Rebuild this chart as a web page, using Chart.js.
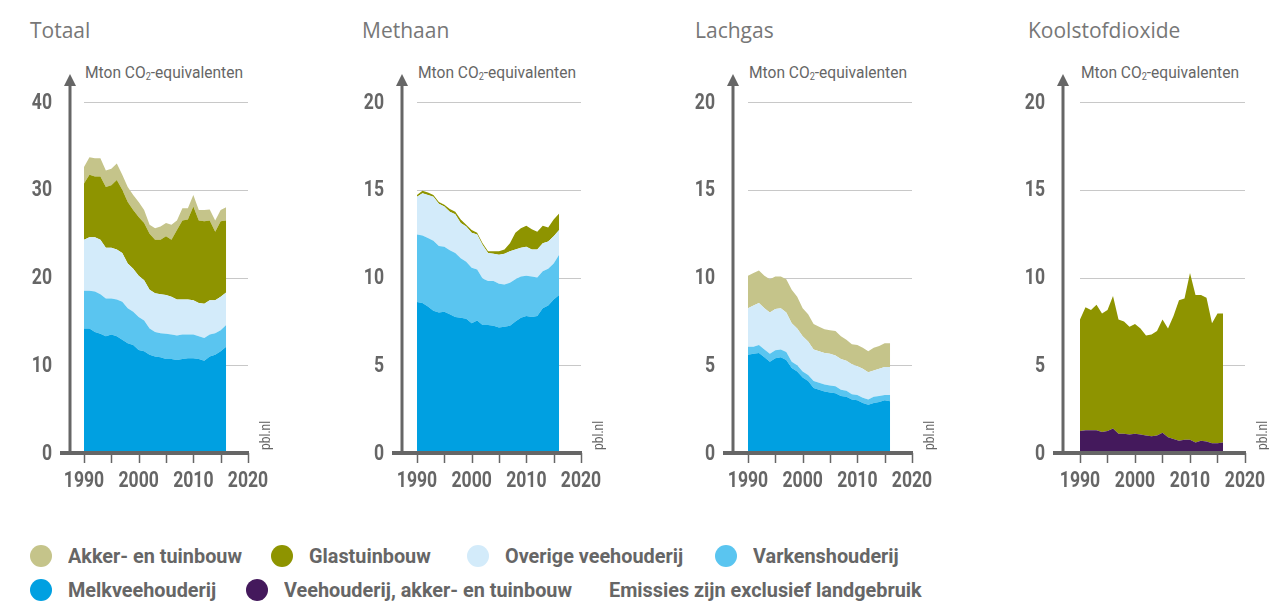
<!DOCTYPE html>
<html>
<head>
<meta charset="utf-8">
<script src="https://cdn.jsdelivr.net/npm/chart.js@4"></script>
<style>
  body { margin: 0; width: 1269px; height: 601px; overflow: hidden; background: #fff; position: relative; }
  canvas { position: absolute; top: 0; }
  .title { position: absolute; top: 16px; font: 400 21px "Open Sans", sans-serif; color: #777; }
  .unit { position: absolute; top: 62px; font: 400 17px Roboto, sans-serif; color: #666; white-space: nowrap; transform-origin: 0 0; }
  .unit sub { font-size: 10px; vertical-align: -2px; line-height: 0; }
  .leg { position: absolute; font: 700 20px Roboto, sans-serif; color: #666; white-space: nowrap; line-height: 22px; transform-origin: 0 50%; }
  .dot { position: absolute; width: 22px; height: 22px; border-radius: 50%; }
</style>
</head>
<body>
<script>
var years = [];
for (var y = 1990; y <= 2016; y++) years.push(y);

var xTicks = [1990, 2000, 2010, 2020];

var colors = {
  akker: '#c5c48a',
  glas: '#8e9400',
  overige: '#d3ebfa',
  varkens: '#5ac5f0',
  melk: '#00a0e1',
  veeh: '#44195c'
};

// Totaal
var totMelk    = [14.2,14.2,13.8,13.6,13.3,13.5,13.3,12.9,12.5,12.3,11.75,11.6,11.2,11.0,10.9,10.7,10.7,10.6,10.7,10.8,10.8,10.7,10.5,11.0,11.2,11.6,12.1];
var totVarkens = [4.3,4.3,4.6,4.5,4.3,4.1,4.2,4.35,4.0,3.8,3.75,3.5,3.0,2.8,2.75,2.9,2.8,2.8,2.8,2.7,2.7,2.6,2.6,2.5,2.45,2.4,2.5];
var totOverige = [5.8,6.1,6.2,6.2,5.8,5.8,5.7,5.55,5.1,4.9,4.7,4.6,4.4,4.4,4.45,4.4,4.3,4.1,4.0,4.0,3.9,3.8,3.9,3.9,3.75,3.8,3.7];
var totGlas    = [6.4,7.1,6.9,7.2,6.9,7.1,7.9,7.2,7.0,6.7,6.7,6.5,6.4,6.1,6.2,6.7,6.5,7.9,9.0,9.1,10.7,9.4,9.4,9.1,7.8,8.6,8.2];
var totAkker   = [1.9,2.0,2.1,2.1,1.9,1.9,1.9,1.7,1.7,1.7,1.7,1.5,1.0,1.3,1.5,1.5,1.7,1.1,1.4,1.3,1.3,1.2,1.3,1.25,1.3,1.3,1.5];

// Methaan
var ch4Melk    = [8.6,8.55,8.35,8.1,8.0,8.05,7.9,7.75,7.7,7.65,7.4,7.55,7.3,7.3,7.25,7.15,7.2,7.25,7.5,7.7,7.8,7.75,7.8,8.25,8.4,8.75,9.0];
var ch4Varkens = [3.85,3.85,3.9,4.0,3.8,3.7,3.65,3.65,3.4,3.25,3.15,2.9,2.65,2.5,2.55,2.5,2.4,2.45,2.4,2.35,2.3,2.3,2.2,2.1,2.1,2.05,2.3];
var ch4Overige = [2.15,2.4,2.45,2.5,2.4,2.3,2.2,2.2,2.0,2.0,2.0,2.0,1.9,1.6,1.55,1.65,1.75,1.8,1.7,1.65,1.65,1.55,1.6,1.6,1.55,1.55,1.4];
var ch4Glas    = [0.1,0.15,0.15,0.1,0.1,0.1,0.15,0.15,0.2,0.1,0.15,0.1,0.1,0.1,0.15,0.2,0.25,0.45,0.95,1.1,1.2,1.15,1.0,1.0,0.8,0.95,0.95];

// Lachgas
var n2oMelk    = [5.6,5.65,5.7,5.45,5.2,5.4,5.45,5.3,4.85,4.65,4.3,4.1,3.7,3.6,3.5,3.45,3.4,3.25,3.2,3.05,3.0,2.85,2.75,2.85,2.9,3.0,2.95];
var n2oVarkens = [0.45,0.4,0.45,0.45,0.45,0.45,0.45,0.45,0.35,0.35,0.35,0.35,0.4,0.4,0.4,0.4,0.4,0.35,0.35,0.3,0.3,0.3,0.3,0.35,0.35,0.3,0.35];
var n2oOverige = [2.2,2.35,2.4,2.35,2.35,2.35,2.35,2.25,2.2,2.1,2.0,1.9,1.8,1.8,1.8,1.8,1.75,1.75,1.7,1.7,1.65,1.65,1.55,1.5,1.55,1.6,1.6];
var n2oAkker   = [1.85,1.85,1.85,1.85,1.9,1.85,1.8,1.9,1.9,1.8,1.6,1.55,1.45,1.4,1.35,1.35,1.4,1.3,1.2,1.15,1.2,1.2,1.2,1.3,1.3,1.35,1.35];

// Koolstofdioxide
var co2Veeh    = [1.25,1.3,1.3,1.3,1.2,1.25,1.4,1.1,1.1,1.05,1.1,1.05,1.0,0.95,1.0,1.15,0.9,0.8,0.7,0.75,0.75,0.6,0.7,0.65,0.55,0.55,0.6];
var co2Glas    = [6.35,7.0,6.85,7.15,6.75,6.9,7.55,6.5,6.4,6.15,6.25,6.05,5.7,5.8,5.95,6.45,6.2,7.0,8.0,8.05,9.5,8.4,8.3,8.2,6.85,7.4,7.35];

var legendItems = [
  { label: 'Akker- en tuinbouw', color: colors.akker, x: 30, y: 545 },
  { label: 'Glastuinbouw', color: colors.glas, x: 271, y: 545 },
  { label: 'Overige veehouderij', color: colors.overige, x: 467, y: 545 },
  { label: 'Varkenshouderij', color: colors.varkens, x: 715, y: 545 },
  { label: 'Melkveehouderij', color: colors.melk, x: 30, y: 579 },
  { label: 'Veehouderij, akker- en tuinbouw', color: colors.veeh, x: 246, y: 579 },
  { label: 'Emissies zijn exclusief landgebruik', color: null, x: 609, y: 579 }
];

var TICK_FONT = 'bold 22px Roboto, sans-serif';
var SQUEEZE = 0.8;

var panels = [
  { title: 'Totaal', titleX: 30, left: 0, width: 290, span: 178, gap: 14, max: 40, step: 10,
    series: [[totMelk, colors.melk], [totVarkens, colors.varkens], [totOverige, colors.overige], [totGlas, colors.glas], [totAkker, colors.akker]] },
  { title: 'Methaan', titleX: 362, left: 332, width: 290, span: 179, gap: 15, max: 20, step: 5,
    series: [[ch4Melk, colors.melk], [ch4Varkens, colors.varkens], [ch4Overige, colors.overige], [ch4Glas, colors.glas]] },
  { title: 'Lachgas', titleX: 695, left: 663, width: 290, span: 179, gap: 15, max: 20, step: 5,
    series: [[n2oMelk, colors.melk], [n2oVarkens, colors.varkens], [n2oOverige, colors.overige], [n2oAkker, colors.akker]] },
  { title: 'Koolstofdioxide', titleX: 1028, left: 993, width: 276, span: 182, gap: 17, max: 20, step: 5,
    series: [[co2Veeh, colors.veeh], [co2Glas, colors.glas]] }
];

var AXIS_X = 70, TOP = 102, BASE = 453, H = 500;

function squeezedText(ctx, text, x, y, align) {
  ctx.save();
  ctx.translate(x, y);
  ctx.scale(SQUEEZE, 1);
  ctx.textAlign = align;
  ctx.fillText(text, 0, 0);
  ctx.restore();
}

var decoPlugin = {
  id: 'deco',
  beforeDatasetsDraw: function(chart) {
    var ctx = chart.ctx, xs = chart.scales.x, ys = chart.scales.y;
    ctx.save();
    ctx.strokeStyle = '#c8c8c8';
    ctx.lineWidth = 1;
    ys.ticks.forEach(function(t) {
      if (t.value === 0) return;
      var py = Math.round(ys.getPixelForValue(t.value)) + 0.5;
      ctx.beginPath();
      ctx.moveTo(xs.getPixelForValue(1990), py);
      ctx.lineTo(xs.getPixelForValue(2020), py);
      ctx.stroke();
    });
    ctx.restore();
  },
  afterDatasetsDraw: function(chart) {
    var ctx = chart.ctx, xs = chart.scales.x, ys = chart.scales.y;
    var ax = chart.chartArea.left;
    var y0 = ys.getPixelForValue(0);
    ctx.save();
    ctx.fillStyle = '#666';
    ctx.strokeStyle = '#666';
    // tick marks every 5 years
    ctx.lineWidth = 1.5;
    for (var yr = 1990; yr <= 2020; yr += 5) {
      var px = Math.round(xs.getPixelForValue(yr)) + 0.5;
      ctx.beginPath();
      ctx.moveTo(px, y0);
      ctx.lineTo(px, y0 + 10);
      ctx.stroke();
    }
    // baseline
    ctx.fillRect(ax - 10, y0 - 2, xs.getPixelForValue(2020) - ax + 11, 4);
    // vertical axis with arrow
    ctx.fillRect(ax - 1.5, 82, 3, y0 - 82);
    ctx.beginPath();
    ctx.moveTo(ax, 74);
    ctx.lineTo(ax - 6, 86);
    ctx.lineTo(ax + 6, 86);
    ctx.closePath();
    ctx.fill();
    // tick labels
    ctx.font = TICK_FONT;
    ctx.textBaseline = 'middle';
    ys.ticks.forEach(function(t) {
      squeezedText(ctx, String(t.value), ax - 18, ys.getPixelForValue(t.value) + 1, 'right');
    });
    xs.ticks.forEach(function(t) {
      squeezedText(ctx, String(t.value), xs.getPixelForValue(t.value), y0 + 28, 'center');
    });
    // source
    ctx.translate(xs.getPixelForValue(2020) + 18, y0 - 3);
    ctx.rotate(-Math.PI / 2);
    ctx.font = '400 15px Roboto, sans-serif';
    squeezedText(ctx, 'pbl.nl', 0, 0, 'left');
    ctx.restore();
  }
};

panels.forEach(function(p) {
  var t = document.createElement('div');
  t.className = 'title';
  t.style.left = p.titleX + 'px';
  t.textContent = p.title;
  document.body.appendChild(t);

  var u = document.createElement('div');
  u.className = 'unit';
  u.style.left = (p.left + AXIS_X + p.gap + 1) + 'px';
  u.innerHTML = 'Mton CO<sub>2</sub>-equivalenten';
  document.body.appendChild(u);
  u.style.transform = 'scaleX(' + (158 / u.getBoundingClientRect().width) + ')';

  var c = document.createElement('canvas');
  c.style.left = p.left + 'px';
  c.style.width = p.width + 'px';
  c.style.height = H + 'px';
  c.width = p.width;
  c.height = H;
  document.body.appendChild(c);

  var xMin = 2020 - 30 * p.span / (p.span - p.gap);

  var datasets = p.series.map(function(s, i) {
    return {
      data: years.map(function(yr, k) { return { x: yr, y: s[0][k] }; }),
      backgroundColor: s[1],
      borderWidth: 0,
      pointRadius: 0,
      tension: 0,
      fill: i === 0 ? 'origin' : '-1'
    };
  });

  new Chart(c, {
    type: 'line',
    data: { datasets: datasets },
    plugins: [decoPlugin],
    options: {
      responsive: false,
      animation: false,
      layout: { padding: { top: TOP, left: 0, right: p.width - AXIS_X - p.span, bottom: 0 } },
      plugins: { legend: { display: false }, tooltip: { enabled: false } },
      scales: {
        x: {
          type: 'linear',
          min: xMin,
          max: 2020,
          afterBuildTicks: function(s) { s.ticks = xTicks.map(function(v) { return { value: v }; }); },
          afterFit: function(s) { s.height = H - BASE; },
          grid: { display: false, drawTicks: false },
          border: { display: false },
          ticks: { display: false }
        },
        y: {
          stacked: true,
          min: 0,
          max: p.max,
          afterFit: function(s) { s.width = AXIS_X; },
          grid: { display: false, drawTicks: false },
          border: { display: false },
          ticks: { display: false, stepSize: p.step }
        }
      }
    }
  });
});

var legScale = null;
legendItems.forEach(function(it) {
  if (it.color) {
    var d = document.createElement('div');
    d.className = 'dot';
    d.style.left = it.x + 'px';
    d.style.top = it.y + 'px';
    d.style.background = it.color;
    document.body.appendChild(d);
  }
  var l = document.createElement('div');
  l.className = 'leg';
  l.style.left = (it.color ? it.x + 38 : it.x) + 'px';
  l.style.top = it.y + 'px';
  l.textContent = it.label;
  document.body.appendChild(l);
  if (legScale === null) legScale = 174 / l.getBoundingClientRect().width;
  l.style.transform = 'scaleX(' + legScale + ')';
});
</script>
</body>
</html>
